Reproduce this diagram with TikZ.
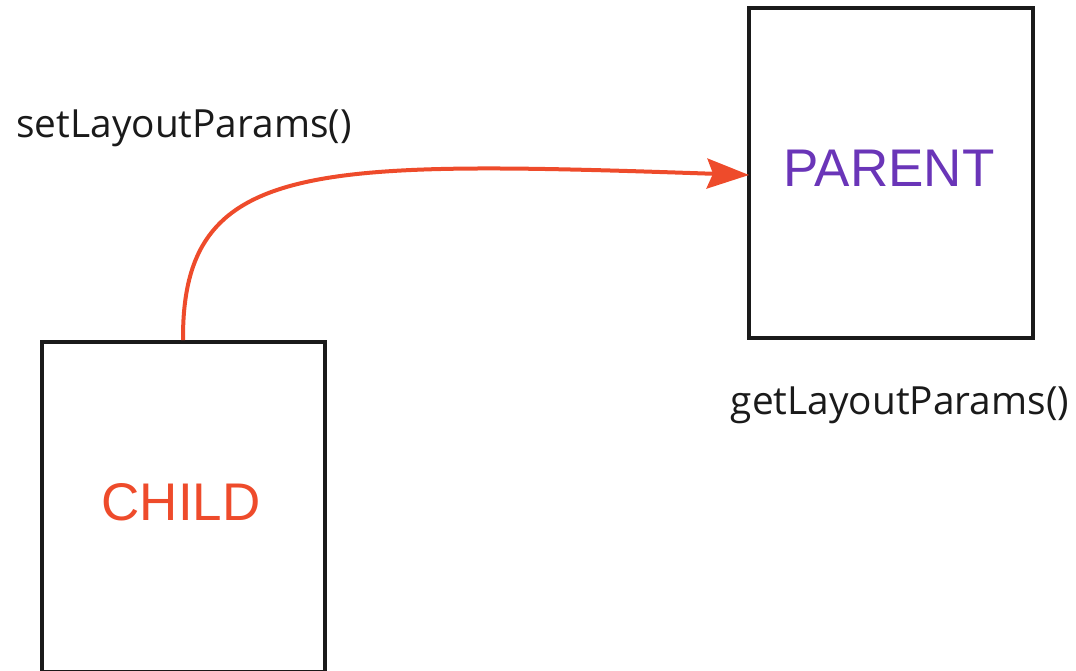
\documentclass[tikz,border=0pt]{standalone}
\usepackage{fontspec}
\setmainfont{Open Sans}
\newfontfamily\boxfont{Liberation Sans}
\usetikzlibrary{arrows.meta}
\definecolor{rbred}{HTML}{EE4B2B}
\definecolor{rbpurple}{HTML}{6A35B8}
\definecolor{rbtext}{HTML}{1A1A1A}
\tikzset{
  box/.style={draw=rbtext, line width=3.5pt, fill=none},
  lbl/.style={text=rbtext, font=\fontsize{38.8}{44}\selectfont, inner sep=0pt},
  boxlbl/.style={font=\boxfont\fontsize{53}{60}\selectfont, inner sep=0pt},
  link/.style={draw=rbred, line width=4pt, -{Stealth[length=42pt,width=30pt,inset=6pt]}}
}
\begin{document}
\begin{tikzpicture}[x=1pt,y=-1pt]
\useasboundingbox (0,0) rectangle (1076,670);
\draw[box] (749,8) rectangle (1033,338);
\node[coordinate] (pw) at (749,175) {};
\draw[box] (42,342) rectangle (325,672);
\node[coordinate] (ct) at (183,340) {};
\node[boxlbl, text=rbpurple] (parent) at (889,168) {PARENT};
\node[boxlbl, text=rbred] (child) at (181,502) {CHILD};
\node[lbl] (setl) at (184,128) {setLayoutParams()};
\node[lbl] (getl) at (900,405) {getLayoutParams()};
\draw[link] (ct) .. controls (182,160) and (310,160) .. (pw);
\end{tikzpicture}
\end{document}
